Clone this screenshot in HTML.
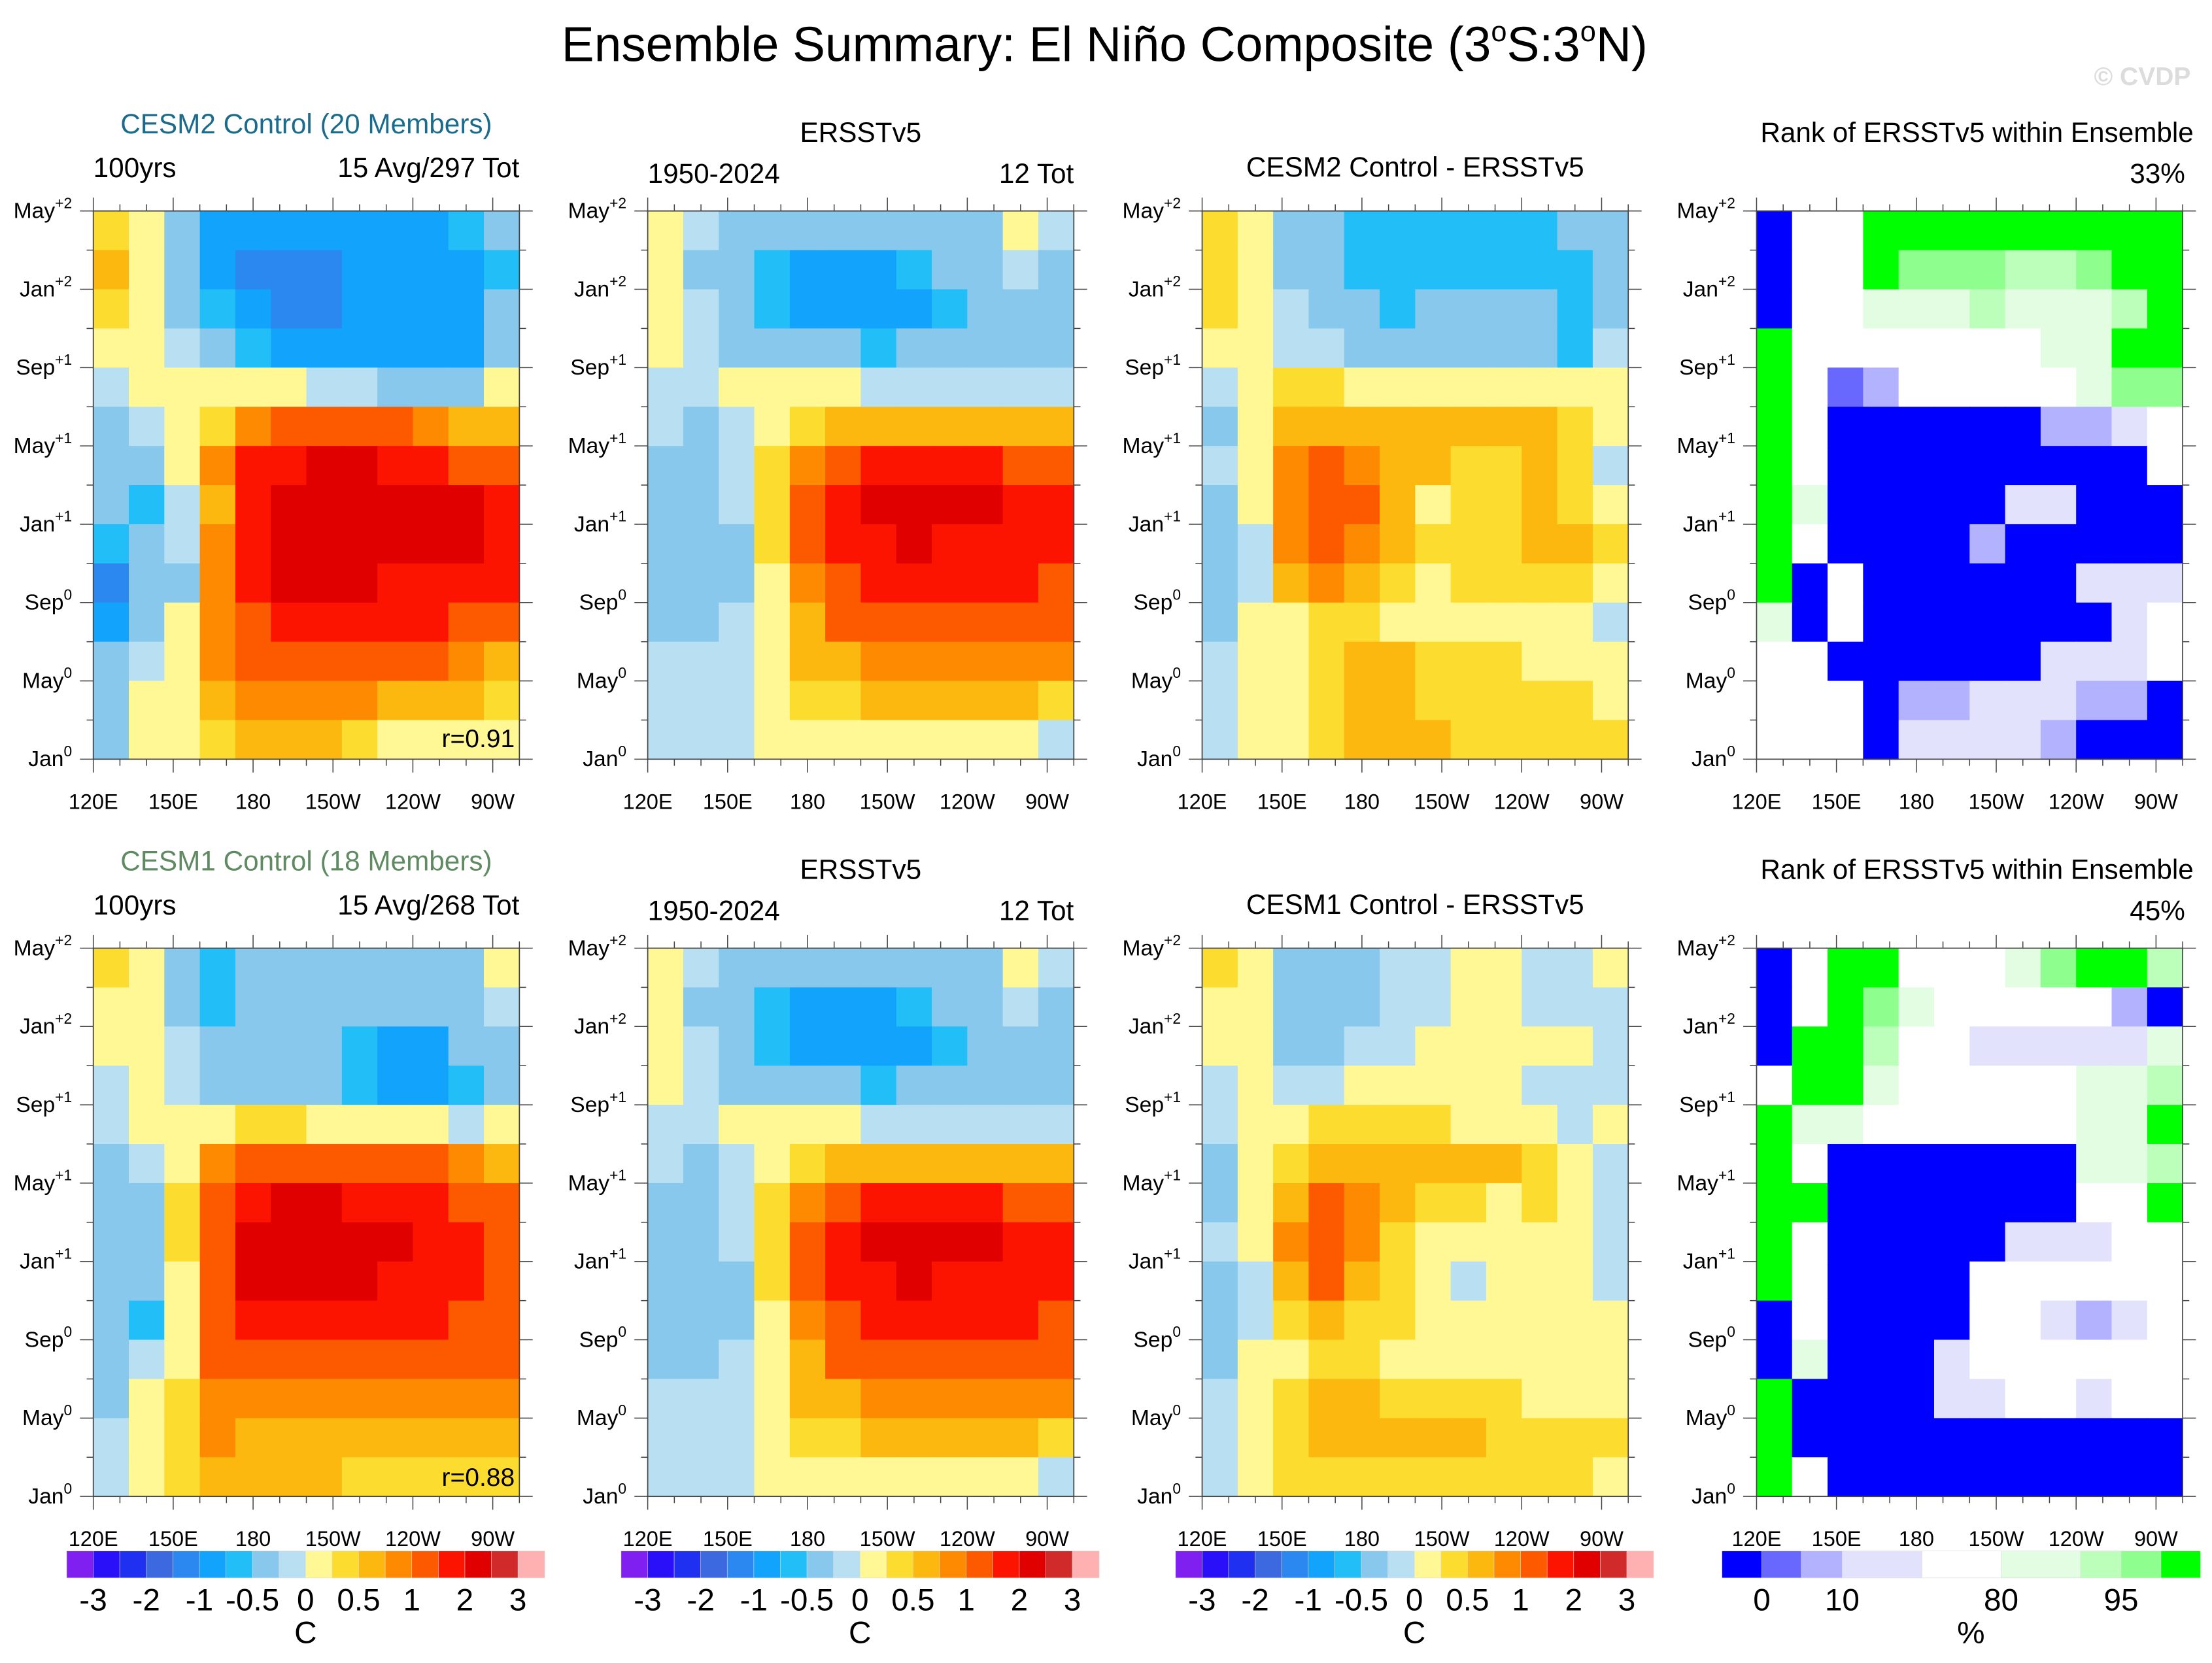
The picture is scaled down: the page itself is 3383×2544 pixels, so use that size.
<!DOCTYPE html>
<html><head><meta charset="utf-8"><style>
html,body{margin:0;padding:0;background:#fff;}
svg{display:block;}
text{font-family:"Liberation Sans",sans-serif;}
</style></head><body>
<svg id="fig" xmlns="http://www.w3.org/2000/svg" width="3383" height="2544" viewBox="0 0 1560 1173" preserveAspectRatio="none">
<rect x="0" y="0" width="1560" height="1173" fill="#fff"/>
<text x="779" y="43" font-size="34.5" text-anchor="middle">Ensemble Summary: El Niño Composite (3<tspan font-size="20" dy="-14">o</tspan><tspan dy="14">S:3</tspan><tspan font-size="20" dy="-14">o</tspan><tspan dy="14">N)</tspan></text>
<text x="1545" y="60" font-size="18" font-weight="bold" fill="#dcdcdc" text-anchor="end">© CVDP</text>
<g id="layer"></g>
</svg>
<script>
// ---------- data (rows top = Mar-May+2 ... bottom = Jan0; columns 120E -> 80W) ----------
const levels = [-3,-2.5,-2,-1.5,-1,-0.75,-0.5,-0.25,0,0.25,0.5,0.75,1,1.5,2,2.5,3];
const tickLabels = ["-3","-2","-1","-0.5","0","0.5","1","2","3"];
const rankLabels = ["0","10","80","95"];
const yLabels = [["May","+2"],["Jan","+2"],["Sep","+1"],["May","+1"],["Jan","+1"],["Sep","0"],["May","0"],["Jan","0"]];
const xLabels = ["120E","150E","180","150W","120W","90W"];
const xLons = [120,150,180,210,240,270];

const cesm2 = [
[0.4,0.1,-0.4,-0.8,-0.9,-0.9,-0.9,-0.9,-0.8,-0.8,-0.6,-0.4],
[0.5,0.1,-0.4,-0.8,-1.1,-1.2,-1.1,-0.9,-0.9,-0.9,-0.8,-0.6],
[0.3,0.1,-0.3,-0.6,-0.9,-1.1,-1.1,-0.9,-0.9,-0.9,-0.8,-0.5],
[0.1,0.1,-0.2,-0.4,-0.6,-0.8,-0.9,-0.9,-0.9,-0.9,-0.8,-0.5],
[-0.2,0.1,0.1,0.1,0.1,0.0,-0.1,-0.2,-0.3,-0.3,-0.3,0.1],
[-0.3,-0.2,0.1,0.4,0.9,1.1,1.2,1.1,1.0,0.9,0.7,0.5],
[-0.4,-0.3,0.1,0.8,1.5,1.9,2.0,2.0,1.9,1.8,1.4,1.0],
[-0.5,-0.6,-0.2,0.7,1.7,2.3,2.4,2.3,2.3,2.2,2.0,1.8],
[-0.6,-0.4,-0.1,0.8,1.8,2.2,2.2,2.2,2.2,2.2,2.1,1.9],
[-1.2,-0.5,-0.3,0.8,1.7,2.0,2.0,2.0,1.9,1.9,1.8,1.7],
[-0.8,-0.4,0.1,0.9,1.4,1.6,1.6,1.6,1.6,1.5,1.4,1.2],
[-0.4,-0.2,0.1,0.8,1.1,1.2,1.2,1.2,1.1,1.0,0.9,0.7],
[-0.3,0.1,0.2,0.6,0.8,0.9,0.9,0.8,0.7,0.6,0.5,0.4],
[-0.3,0.1,0.1,0.4,0.6,0.6,0.5,0.3,0.2,0.2,0.2,0.2]];
const ersst = [
[0.1,-0.2,-0.3,-0.4,-0.5,-0.5,-0.4,-0.4,-0.4,-0.3,0.1,-0.2],
[0.1,-0.3,-0.4,-0.6,-0.8,-0.9,-0.8,-0.7,-0.5,-0.4,-0.2,-0.3],
[0.1,-0.2,-0.4,-0.6,-0.8,-0.8,-0.9,-0.8,-0.6,-0.5,-0.4,-0.3],
[0.1,-0.2,-0.3,-0.4,-0.5,-0.5,-0.6,-0.5,-0.4,-0.4,-0.3,-0.3],
[-0.1,-0.2,0.1,0.1,0.1,0.0,-0.1,-0.2,-0.2,-0.2,-0.2,-0.1],
[-0.2,-0.3,-0.2,0.1,0.4,0.6,0.6,0.6,0.6,0.6,0.6,0.5],
[-0.3,-0.3,-0.2,0.3,0.9,1.3,1.5,1.6,1.6,1.5,1.4,1.2],
[-0.3,-0.4,-0.2,0.4,1.2,1.7,2.1,2.3,2.2,2.0,1.8,1.6],
[-0.3,-0.4,-0.3,0.3,1.1,1.6,1.9,2.0,1.9,1.8,1.7,1.6],
[-0.4,-0.3,-0.3,0.2,0.9,1.3,1.5,1.5,1.5,1.5,1.5,1.4],
[-0.3,-0.3,-0.2,0.2,0.7,1.0,1.2,1.2,1.2,1.2,1.2,1.2],
[-0.2,-0.2,-0.2,0.2,0.5,0.7,0.8,0.8,0.9,0.9,0.9,0.9],
[-0.2,-0.1,-0.1,0.1,0.3,0.4,0.5,0.5,0.5,0.5,0.5,0.4],
[-0.2,-0.1,-0.1,0.1,0.1,0.1,0.1,0.1,0.1,0.1,0.1,-0.1]];
const diff2 = [
[0.4,0.1,-0.3,-0.5,-0.6,-0.6,-0.6,-0.6,-0.6,-0.6,-0.5,-0.3],
[0.4,0.1,-0.3,-0.4,-0.6,-0.6,-0.6,-0.6,-0.6,-0.6,-0.6,-0.4],
[0.3,0.1,-0.2,-0.3,-0.5,-0.6,-0.4,-0.4,-0.4,-0.5,-0.6,-0.3],
[0.1,0.1,-0.1,-0.2,-0.3,-0.4,-0.4,-0.4,-0.3,-0.4,-0.6,-0.2],
[-0.2,0.1,0.3,0.3,0.2,0.2,0.2,0.2,0.2,0.1,0.1,0.1],
[-0.3,0.1,0.5,0.6,0.6,0.5,0.6,0.6,0.5,0.5,0.4,0.2],
[-0.2,0.1,0.8,1.1,0.9,0.6,0.5,0.4,0.4,0.5,0.4,-0.2],
[-0.3,0.1,0.9,1.2,1.0,0.5,0.2,0.3,0.4,0.5,0.3,0.1],
[-0.4,-0.1,0.8,1.2,0.9,0.5,0.4,0.3,0.4,0.5,0.7,0.3],
[-0.5,-0.1,0.5,0.8,0.6,0.3,0.2,0.3,0.3,0.3,0.4,0.2],
[-0.4,0.1,0.2,0.4,0.3,0.2,0.2,0.2,0.2,0.2,0.1,-0.2],
[-0.2,0.1,0.1,0.3,0.5,0.5,0.4,0.4,0.3,0.2,0.1,0.1],
[-0.1,0.1,0.2,0.4,0.5,0.5,0.4,0.4,0.3,0.3,0.3,0.2],
[-0.1,0.1,0.2,0.4,0.5,0.5,0.5,0.4,0.4,0.4,0.4,0.3]];
const cesm1 = [
[0.3,0.1,-0.3,-0.6,-0.5,-0.4,-0.4,-0.4,-0.4,-0.4,-0.3,0.1],
[0.2,0.1,-0.3,-0.6,-0.5,-0.5,-0.5,-0.5,-0.4,-0.4,-0.3,-0.1],
[0.1,0.1,-0.2,-0.5,-0.5,-0.4,-0.5,-0.7,-0.9,-0.8,-0.5,-0.3],
[-0.1,0.1,-0.2,-0.3,-0.3,-0.4,-0.5,-0.7,-0.8,-0.8,-0.6,-0.3],
[-0.2,0.1,0.1,0.2,0.3,0.3,0.2,0.2,0.1,0.0,-0.1,0.1],
[-0.3,-0.1,0.2,0.8,1.2,1.3,1.3,1.2,1.1,1.0,0.8,0.6],
[-0.4,-0.3,0.3,1.2,1.8,2.0,2.0,1.9,1.7,1.6,1.4,1.0],
[-0.4,-0.3,0.3,1.4,2.2,2.3,2.3,2.2,2.1,1.7,1.6,1.3],
[-0.4,-0.3,0.2,1.4,2.0,2.1,2.1,2.0,1.9,1.8,1.6,1.4],
[-0.4,-0.6,0.1,1.2,1.7,1.7,1.7,1.6,1.5,1.5,1.4,1.3],
[-0.3,-0.2,0.2,1.0,1.2,1.3,1.3,1.3,1.2,1.2,1.1,1.0],
[-0.3,0.1,0.3,0.8,0.9,0.9,0.9,0.9,0.9,0.9,0.8,0.8],
[-0.2,0.1,0.4,0.8,0.7,0.7,0.7,0.6,0.6,0.6,0.6,0.5],
[-0.2,0.1,0.4,0.6,0.5,0.5,0.5,0.4,0.4,0.4,0.4,0.4]];
const diff1 = [
[0.3,0.1,-0.5,-0.4,-0.3,-0.2,-0.1,0.1,0.1,-0.1,-0.1,0.1],
[0.2,0.1,-0.5,-0.4,-0.3,-0.2,-0.1,0.1,0.1,-0.1,-0.2,-0.1],
[0.1,0.1,-0.3,-0.3,-0.2,-0.1,0.1,0.1,0.2,0.2,0.1,-0.1],
[-0.1,0.1,-0.2,-0.1,0.1,0.1,0.1,0.1,0.1,-0.1,-0.2,-0.2],
[-0.2,0.1,0.2,0.3,0.3,0.3,0.3,0.2,0.1,0.1,-0.1,0.1],
[-0.3,0.1,0.4,0.7,0.7,0.6,0.6,0.6,0.5,0.4,0.2,-0.1],
[-0.3,0.1,0.6,1.0,0.8,0.5,0.4,0.3,0.2,0.3,0.1,-0.2],
[-0.2,0.1,0.8,1.2,0.9,0.4,0.2,0.1,0.1,0.2,0.1,-0.1],
[-0.3,-0.1,0.6,1.1,0.7,0.3,0.1,-0.1,0.1,0.2,0.1,-0.1],
[-0.4,-0.2,0.3,0.6,0.4,0.3,0.2,0.1,0.1,0.1,0.1,0.1],
[-0.3,0.1,0.1,0.3,0.3,0.2,0.1,0.1,0.1,0.1,0.1,0.1],
[-0.2,0.1,0.3,0.5,0.5,0.4,0.3,0.3,0.3,0.2,0.2,0.1],
[-0.1,0.1,0.4,0.7,0.6,0.6,0.5,0.5,0.4,0.4,0.4,0.3],
[-0.1,0.1,0.3,0.4,0.4,0.3,0.3,0.3,0.3,0.3,0.4,0.2]];
const rank2 = [
[0,4,4,8,8,8,8,8,8,8,8,8],
[0,4,4,8,7,7,7,6,6,7,8,8],
[0,4,4,5,5,5,6,5,5,5,6,8],
[8,4,4,4,4,4,4,4,5,5,8,8],
[8,4,1,2,4,4,4,4,4,5,7,7],
[8,4,0,0,0,0,0,0,2,2,3,4],
[8,4,0,0,0,0,0,0,0,0,0,4],
[8,5,0,0,0,0,0,3,3,0,0,0],
[8,4,0,0,0,0,2,0,0,0,0,0],
[8,0,4,0,0,0,0,0,0,3,3,3],
[5,0,4,0,0,0,0,0,0,0,3,4],
[4,4,0,0,0,0,0,0,3,3,3,4],
[4,4,4,0,2,2,3,3,3,2,2,0],
[4,4,4,0,3,3,3,3,2,0,0,0]];
const rank1 = [
[0,4,8,8,4,4,4,5,7,8,8,6],
[0,4,8,7,5,4,4,4,4,4,2,0],
[0,8,8,6,4,4,3,3,3,3,3,5],
[4,8,8,5,4,4,4,4,4,5,5,6],
[8,5,5,4,4,4,4,4,4,5,5,8],
[8,4,0,0,0,0,0,0,0,5,5,6],
[8,8,0,0,0,0,0,0,0,4,4,8],
[8,4,0,0,0,0,0,3,3,3,4,4],
[8,4,0,0,0,0,4,4,4,4,4,4],
[0,4,0,0,0,0,4,4,3,2,3,4],
[0,5,0,0,0,3,4,4,4,4,4,4],
[8,0,0,0,0,3,3,4,4,3,4,4],
[8,0,0,0,0,0,0,0,0,0,0,0],
[8,4,0,0,0,0,0,0,0,0,0,0]];

// ---------- styles ----------
const tColors = ["#8020f0","#2a10f8","#2030f0","#3c68e0","#2a88f0","#12a4fc","#22bef8","#88c8ec","#b8e0f2","#fff895","#fddc30","#fdb810","#fd8a00","#fd5a00","#fd1400","#e00000","#d02a2a","#ffb0b0"];
const rColors = ["#0000ff","#6868ff","#b2b2ff","#e2e2fc","#ffffff","#e2fde2","#bbffbb","#8eff8e","#00ff00"];
const rBounds = [1214.4,1242.5,1270.4,1299.2,1355.5,1411.3,1467.3,1495.9,1524,1551.7];
const rLabelIdx = [1,3,5,7];

const NS = "http://www.w3.org/2000/svg";
const layer = document.getElementById('layer');
function mk(tag, attrs, parent){
  const e = document.createElementNS(NS, tag);
  for (const k in attrs) e.setAttribute(k, attrs[k]);
  (parent||layer).appendChild(e);
  return e;
}
function txt(s, attrs, parent){ const t = mk('text', attrs, parent); t.textContent = s; return t; }

const PX = [65.8, 456.8, 847.8, 1238.8], PW = 300.5;
const PY = [148.8, 668.8], PH = 386.7;
function binIdx(v){ let i=0; while(i<levels.length && v>=levels[i]) i++; return i; }
function xScale(p, lon){ return PX[p] + (lon-120)/160*PW; }

function panel(col,row,data,isRank,name){
  const g = mk('g',{});
  
  
  const x0=PX[col], y0=PY[row];
  const nr=data.length, nc=data[0].length;
  const cw=PW/nc, ch=PH/nr;
  for(let r=0;r<nr;r++) for(let c=0;c<nc;c++){
    const v=data[r][c];
    const fill = isRank ? rColors[v] : tColors[binIdx(v)];
    const cell = mk('rect',{x:(x0+c*cw).toFixed(2),y:(y0+r*ch).toFixed(2),width:(cw+0.4).toFixed(2),height:(ch+0.4).toFixed(2),fill:fill},g);
    
    
  }
  mk('rect',{x:x0,y:y0,width:PW,height:PH,fill:'none',stroke:'#444','stroke-width':0.8},g);
  for(let i=0;i<=28;i+=2){
    const y=y0+i/28*PH, major=(i%4===0), L=major?9.4:4.7;
    mk('line',{x1:x0-L,y1:y,x2:x0,y2:y,stroke:'#444','stroke-width':0.7},g);
    mk('line',{x1:x0+PW,y1:y,x2:x0+PW+L,y2:y,stroke:'#444','stroke-width':0.7},g);
  }
  yLabels.forEach((lb,i)=>{
    const y=y0+i*4/28*PH+5;
    const t=txt('',{x:x0-15,y:y,'font-size':15.5,'text-anchor':'end'},g);
    
    
    const a=document.createElementNS(NS,'tspan'); a.textContent=lb[0]; t.appendChild(a);
    const b=document.createElementNS(NS,'tspan'); b.textContent=lb[1]; b.setAttribute('font-size','10.5'); b.setAttribute('dy','-7'); t.appendChild(b);
  });
  for(let lon=120;lon<=280;lon+=10){
    const x=xScale(col,lon), major=((lon-120)%30===0), L=major?9.4:4.7;
    mk('line',{x1:x,y1:y0-L,x2:x,y2:y0,stroke:'#444','stroke-width':0.7},g);
    mk('line',{x1:x,y1:y0+PH,x2:x,y2:y0+PH+L,stroke:'#444','stroke-width':0.7},g);
  }
  xLabels.forEach((lb,i)=>{
    const t=txt(lb,{x:xScale(col,xLons[i]),y:y0+PH+35,'font-size':15,'text-anchor':'middle'},g);
    
    
  });
}

function tempBar(col){
  const g=mk('g',{});
  
  
  const x0=PX[col]-18.8, w=337/18, y=1094, h=19;
  tColors.forEach((c,i)=>{
    const r=mk('rect',{x:(x0+i*w).toFixed(2),y:y,width:(w+0.2).toFixed(2),height:h,fill:c,stroke:'#ddd','stroke-width':0.3},g);
    
    
  });
  tickLabels.forEach((s,i)=>{
    const t=txt(s,{x:x0+(1+2*i)*w,y:1136,'font-size':22,'text-anchor':'middle'},g);
    
    
  });
  const u=txt('C',{x:x0+9*w,y:1159,'font-size':22,'text-anchor':'middle'},g);
  
  
}
function rankBar(){
  const g=mk('g',{});
  
  
  rColors.forEach((c,i)=>{
    const r=mk('rect',{x:rBounds[i],y:1094,width:(rBounds[i+1]-rBounds[i]+0.2).toFixed(2),height:19,fill:c,stroke:'#ddd','stroke-width':0.3},g);
    
    
  });
  rankLabels.forEach((s,i)=>{
    const t=txt(s,{x:rBounds[rLabelIdx[i]],y:1136,'font-size':22,'text-anchor':'middle'},g);
    
    
  });
  const u=txt('%',{x:1390,y:1159,'font-size':22,'text-anchor':'middle'},g);
  
  
}

panel(0,0,cesm2,false,'cesm2-composite-panel');
panel(1,0,ersst,false,'ersst-composite-panel-top');
panel(2,0,diff2,false,'cesm2-minus-ersst-panel');
panel(3,0,rank2,true,'cesm2-rank-panel');
panel(0,1,cesm1,false,'cesm1-composite-panel');
panel(1,1,ersst,false,'ersst-composite-panel-bottom');
panel(2,1,diff1,false,'cesm1-minus-ersst-panel');
panel(3,1,rank1,true,'cesm1-rank-panel');
tempBar(0); tempBar(1); tempBar(2); rankBar();

const labels = [
 ['cesm2-title','CESM2 Control (20 Members)',216,94,'middle','#1a6b8c'],
 ['cesm2-years','100yrs',65.8,125,'start','#000'],
 ['cesm2-count','15 Avg/297 Tot',366.3,125,'end','#000'],
 ['ersst-title-top','ERSSTv5',607,100,'middle','#000'],
 ['ersst-years-top','1950-2024',456.8,129,'start','#000'],
 ['ersst-count-top','12 Tot',757.3,129,'end','#000'],
 ['cesm2-diff-title','CESM2 Control - ERSSTv5',998,124.5,'middle','#000'],
 ['rank-title-top','Rank of ERSSTv5 within Ensemble',1547,100,'end','#000'],
 ['rank-pct-top','33%',1541,129,'end','#000'],
 ['cesm1-title','CESM1 Control (18 Members)',216,614,'middle','#5f8a62'],
 ['cesm1-years','100yrs',65.8,645,'start','#000'],
 ['cesm1-count','15 Avg/268 Tot',366.3,645,'end','#000'],
 ['ersst-title-bottom','ERSSTv5',607,620,'middle','#000'],
 ['ersst-years-bottom','1950-2024',456.8,649,'start','#000'],
 ['ersst-count-bottom','12 Tot',757.3,649,'end','#000'],
 ['cesm1-diff-title','CESM1 Control - ERSSTv5',998,644.5,'middle','#000'],
 ['rank-title-bottom','Rank of ERSSTv5 within Ensemble',1547,620,'end','#000'],
 ['rank-pct-bottom','45%',1541,649,'end','#000'],
 ['cesm2-correlation','r=0.91',363,527,'end','#000'],
 ['cesm1-correlation','r=0.88',363,1048,'end','#000']
];
labels.forEach(l=>{
  const t=txt(l[1],{x:l[2],y:l[3],'font-size':(l[0].indexOf('correlation')>=0?18:19.5),'text-anchor':l[4],fill:l[5]});
  
  
});
</script>
</body></html>
